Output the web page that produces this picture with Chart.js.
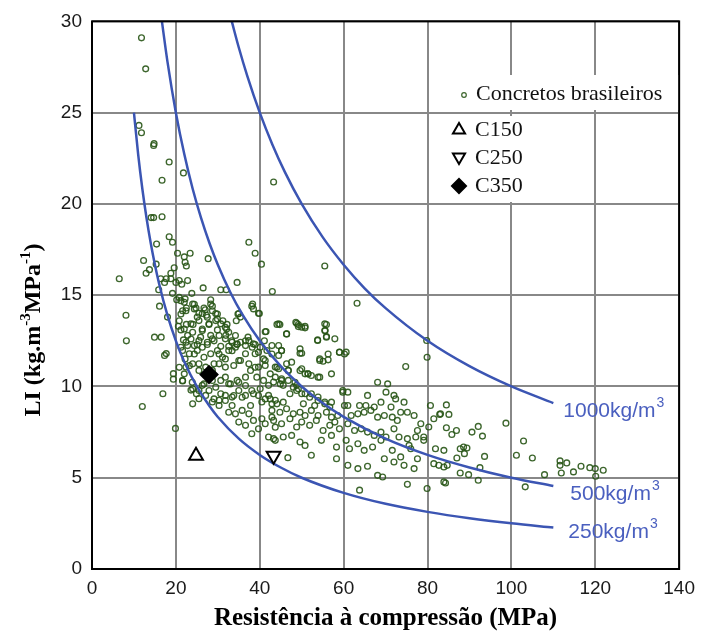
<!DOCTYPE html>
<html>
<head>
<meta charset="utf-8">
<script src="https://cdn.jsdelivr.net/npm/chart.js@4"></script>
<style>
  html, body { margin: 0; padding: 0; background: #fff; }
</style>
</head>
<body>
<canvas id="grafico" width="703" height="634"></canvas>
<script>
// eixos
const xTicks = [0, 20, 40, 60, 80, 100, 120, 140];
const yTicks = [0, 5, 10, 15, 20, 25, 30];

// concretos brasileiros [fc (MPa), LI]
const concretosBrasileiros = [
  [11.8,29.1],[12.8,27.4],[11.2,24.3],[11.8,23.9],[14.7,23.2],[14.8,23.3],[18.4,22.3],[21.8,21.7],[16.7,21.3],[43.3,21.2],
  [14.1,19.25],[14.7,19.25],[16.7,19.3],[18.4,18.2],[19.2,17.9],[15.4,17.8],[37.4,17.9],[38.9,17.3],[40.4,16.7],[20.4,17.3],
  [23.4,17.3],[22.0,17.1],[22.2,16.8],[22.5,16.6],[12.3,16.9],[15.3,16.7],[13.7,16.4],[12.9,16.2],[19.6,16.5],[18.8,16.2],
  [6.5,15.9],[27.7,17.0],[16.4,15.9],[17.7,15.9],[18.8,15.9],[20.8,15.8],[22.8,15.8],[20.0,15.7],[21.4,15.6],[17.3,15.7],
  [15.9,15.3],[23.8,15.1],[26.5,15.4],[30.7,15.3],[32.0,15.3],[34.6,15.7],[43.0,15.2],[19.2,15.1],[16.1,14.4],[8.1,13.9],
  [18.0,13.8],[20.2,14.75],[21.2,14.7],[22.2,14.8],[24.4,14.5],[24.8,14.3],[22.5,14.3],[21.6,14.15],[28.3,14.75],[28.7,14.4],
  [27.0,14.2],[26.3,14.0],[27.3,13.9],[25.1,13.8],[29.5,14.0],[29.9,13.7],[31.2,13.6],[32.2,13.4],[32.1,13.15],[35.0,14.0],
  [35.4,13.8],[34.4,13.6],[38.1,14.4],[38.5,14.25],[39.9,14.0],[41.3,13.0],[44.1,13.4],[20.8,13.6],[20.6,13.3],[22.5,13.4],
  [21.2,13.1],[22.8,12.8],[21.8,12.55],[14.9,12.7],[16.5,12.7],[8.2,12.5],[24.1,13.4],[26.3,13.15],[25.9,12.7],[27.9,13.4],
  [29.9,13.1],[28.3,12.8],[31.9,12.8],[33.3,12.5],[34.6,12.3],[32.6,12.2],[36.6,12.5],[37.2,12.7],[38.9,12.3],[41.1,12.5],
  [23.6,12.6],[25.1,12.3],[27.5,12.3],[29.1,12.5],[30.7,12.2],
  [17.7,11.8],[17.3,11.7],[19.4,10.7],[19.4,10.4],[21.6,10.3],[16.9,9.6],[12.0,8.9],[19.9,7.7],[22.2,11.5],[23.6,9.8],
  [24.9,9.6],[20.8,11.05],[22.8,12.24],[21.2,12.15],[23.2,11.14],[24.4,11.78],[25.5,11.24],[26.3,12.15],[29.1,11.24],[30.3,11.78],
  [31.8,11.51],[33.4,11.96],[34.6,12.33],[36.6,12.24],[38.5,12.33],[39.7,11.87],[41.3,11.42],[42.9,11.78],[35.0,11.42],[37.4,11.24],
  [38.9,11.05],[31.8,10.51],[33.0,10.14],[35.0,10.23],[36.6,10.05],[38.1,9.78],[39.7,9.5],[41.3,9.32],[42.9,9.05],[29.5,9.96],
  [30.7,9.6],[31.8,9.23],[33.4,8.96],[32.6,8.59],[34.2,8.5],[35.8,8.69],[37.4,8.5],[38.5,8.14],[40.5,8.23],[41.3,7.96],
  [39.7,7.68],[38.1,7.41],[42.9,8.32],[43.7,7.77],[43.3,7.14],[42.1,7.23],[35.0,8.05],[36.6,7.87],[30.3,8.96],[29.1,9.32],
  [27.9,9.78],[26.7,10.14],[25.5,9.78],[23.9,10.23],[22.0,10.69],[35.8,9.41],[37.8,8.96],[33.8,9.5],
  [20.8,14.88],[22.0,14.61],[24.0,14.52],[24.4,14.25],[22.4,14.15],[21.2,13.97],[25.5,14.01],[26.7,14.3],[28.3,14.52],[28.7,14.15],
  [29.9,13.97],[27.5,13.79],[25.5,13.61],[23.6,13.43],[22.0,13.15],[24.0,12.97],[26.3,13.06],[27.9,13.43],[29.5,13.61],[30.7,13.43],
  [31.8,13.24],[32.6,12.97],[34.2,12.79],[33.4,12.42],[31.8,12.61],[30.3,12.79],[28.7,12.61],[27.5,12.42],[25.5,12.51],[24.4,12.24],
  [22.4,12.42],[21.6,11.97],[23.2,11.79],[25.1,11.97],[26.7,11.6],[28.3,11.79],[29.9,11.97],[31.1,11.6],[32.6,11.97],[34.2,12.15],
  [35.4,12.42],[37.4,12.51],[38.2,12.15],[38.9,11.79],[36.6,11.79],[35.4,11.42],[33.8,11.15],[31.8,11.06],[30.3,11.24],[28.7,10.88],
  [27.1,11.06],[25.5,10.88],[24.0,11.24],[22.4,11.06],[21.6,10.33],[24.0,9.87],[26.3,10.06],[28.7,10.33],[30.7,10.33],[32.6,10.15],
  [34.6,10.33],[36.6,10.51],[37.8,10.88],[39.7,11.06],[41.3,11.15],[39.3,10.51],[40.9,10.33],[42.1,10.06],[40.1,9.87],[38.5,9.6],
  [36.6,9.51],[35.0,9.78],[33.4,9.42],[31.8,9.51],[30.3,9.24],[28.7,9.15],[27.1,9.51],[25.5,9.33],[24.0,9.05],
  [34.8,13.97],[38.3,14.52],[39.7,14.01],[41.5,13.01],[44.5,13.43],[46.4,12.88],[48.6,13.52],[49.2,13.39],[50.8,13.21],[53.8,12.55],
  [55.5,13.43],[55.5,13.06],[55.9,12.7],[57.9,12.61],[59.0,11.88],[60.6,11.88],[54.3,11.42],[56.3,11.46],[50.0,11.82],[47.6,11.33],
  [44.5,11.7],[45.2,11.97],[42.9,12.24],[41.7,11.97],[40.1,12.15],[40.9,11.51],[43.7,11.06],[44.5,10.97],[46.8,10.88],[50.0,10.97],
  [51.5,10.69],[52.3,10.6],[54.3,10.51],[57.1,10.69],[59.8,9.78],[61.0,9.69],[48.8,10.06],[49.2,9.87],[50.8,9.6],[52.3,9.6],
  [53.9,9.42],[55.5,9.15],[46.8,10.33],[45.2,10.33],[45.6,10.06],[43.3,10.24],[42.1,9.51],[43.7,9.24],[40.5,9.15],[50.4,9.05],
  [53.1,8.96],[56.7,8.87],
  [44.5,12.24],[45.2,11.96],[49.6,11.82],[54.3,11.51],[56.3,11.78],[55.1,11.38],[59.0,11.87],[60.2,11.78],[74.8,11.09],[79.9,11.6],
  [42.5,10.69],[44.1,11.05],[46.4,11.24],[46.8,10.87],[49.6,10.87],[50.8,10.69],[51.5,10.69],[53.9,10.51],[43.7,10.51],[45.2,10.42],
  [44.9,10.14],[48.4,10.23],[48.0,9.96],[68.1,10.23],[70.5,10.14],[59.8,9.69],[70.1,9.69],[65.7,9.51],[72.0,9.51],[72.4,9.32],
  [74.4,9.14],[68.9,9.14],[63.8,8.96],[65.3,8.96],[67.3,8.87],[71.3,8.87],[73.6,8.59],[75.2,8.59],[60.2,8.96],[61.0,8.96],
  [57.1,9.14],[55.5,9.05],[53.9,9.23],[51.9,9.41],[50.0,9.6],[48.8,9.78],[47.2,9.6],[45.6,9.14],[44.1,9.05],[42.5,9.32],
  [42.9,8.69],[44.8,8.59],[46.4,8.78],[48.0,8.5],[49.6,8.59],[50.8,8.41],[52.3,8.69],[53.9,8.41],[55.9,8.59],[57.1,8.32],
  [58.6,8.41],[61.8,8.41],[63.4,8.5],[64.9,8.59],[66.5,8.69],[68.1,8.32],[69.7,8.41],[71.6,8.32],[72.8,8.14],[76.8,8.41],
  [80.7,8.96],[83.1,8.5],[81.5,8.23],[80.3,7.78],[79.1,7.23],[78.4,7.96],[77.6,7.59],[43.3,8.14],[45.2,7.96],[47.2,8.23],
  [48.8,7.78],[50.0,8.05],[51.9,7.87],[53.5,8.14],[55.1,7.59],[56.7,7.87],[57.9,8.05],[59.0,7.68],[61.0,7.96],[62.6,7.59],
  [64.2,7.68],[65.7,7.5],[67.3,7.32],[68.9,7.5],[70.1,7.23],[72.0,7.68],[73.2,7.23],[75.2,7.14],[77.2,7.23],[79.1,7.05],
  [81.9,6.59],[83.9,6.5],[43.7,7.05],[45.6,7.23],[47.6,7.32],[49.6,6.96],[50.8,6.77],[52.3,6.23],[54.7,7.05],[57.1,7.32],
  [58.3,6.68],[60.6,7.05],[61.4,6.59],[63.4,6.86],[64.9,6.5],[66.9,6.68],[68.9,7.05],[69.7,6.04],[71.6,6.5],[72.0,5.86],
  [73.6,6.14],[74.4,5.68],[75.6,6.77],[77.6,6.04],[81.5,5.77],[82.7,5.68],[83.9,5.59],[76.8,5.5],[76.0,6.59],[46.7,6.1],
  [58.3,6.04],[61.0,5.68],[63.4,5.5],[65.7,5.63],[68.1,5.13],[69.3,5.04],[75.2,4.64],[79.9,4.41],[83.9,4.77],[63.8,4.32],
  [84.5,8.99],[82.9,8.47],[85.1,8.47],[84.5,7.74],[85.8,7.37],[86.9,7.59],[90.6,7.5],[92.1,7.81],[93.1,7.28],[98.7,7.99],
  [102.9,7.01],[101.2,6.23],[105.0,6.08],[87.8,6.59],[88.6,6.68],[89.4,6.63],[88.8,6.32],[87.0,6.08],[93.6,6.17],[92.5,5.55],
  [84.7,5.68],[87.8,5.26],[89.8,5.17],[92.1,4.86],[84.3,4.71],[103.3,4.5],[107.9,5.17],[111.6,5.92],[111.6,5.68],[113.2,5.81],
  [111.9,5.26],[114.8,5.32],[116.6,5.63],[118.7,5.55],[120.0,5.5],[120.1,5.08],[121.9,5.41],
  [55.5,16.6],[63.2,14.56],[79.8,12.52],[44.8,13.39],[46.4,12.88],[48.8,13.46],[49.2,13.28],[50.0,13.25],[50.8,13.3],[55.9,13.39],
  [55.6,13.06],[55.9,12.74],[53.8,12.52],[49.6,12.06]
];

// curvas de consumo de ligante (kg/m3)
const consumos = [250, 500, 1000];
const fcCurva250 = [10, 11, 12, 13, 14, 15, 16, 18, 20, 22, 25, 28, 30, 35, 40, 45, 50, 60, 70, 80, 90, 100, 110];
const liCurva250 = [25, 22.73, 20.83, 19.23, 17.86, 16.67, 15.63, 13.89, 12.5, 11.36, 10, 8.93, 8.33, 7.14, 6.25, 5.56, 5, 4.17, 3.57, 3.13, 2.78, 2.5, 2.27];
const fcCurva500 = [16.67, 18, 20, 22, 24, 26, 28, 30, 33, 36, 40, 45, 50, 55, 60, 70, 80, 90, 100, 110];
const liCurva500 = [30, 27.78, 25, 22.73, 20.83, 19.23, 17.86, 16.67, 15.15, 13.89, 12.5, 11.11, 10, 9.09, 8.33, 7.14, 6.25, 5.56, 5, 4.55];
const fcCurva1000 = [33.33, 35, 37, 40, 43, 46, 50, 55, 60, 65, 70, 80, 90, 100, 110];
const liCurva1000 = [30, 28.57, 27.03, 25, 23.26, 21.74, 20, 18.18, 16.67, 15.38, 14.29, 12.5, 11.11, 10, 9.09];

// concretos de referência
const nomesRef = ['C150', 'C250', 'C350'];
const fcRef = [24.8, 43.3, 27.9];
const liRef = [6.2, 6.2, 10.65];

const azul = '#3b55b3';
const verde = 'rgba(40,85,22,0.9)';
const serif = '"Liberation Serif", "Times New Roman", serif';
const sans = '"Liberation Sans", Arial, sans-serif';

function pares(xs, ys) {
  return xs.map(function (v, i) { return { x: v, y: ys[i] }; });
}

const curvas = [
  pares(fcCurva250, liCurva250),
  pares(fcCurva500, liCurva500),
  pares(fcCurva1000, liCurva1000)
];

const datasets = [{
  label: 'Concretos brasileiros',
  data: concretosBrasileiros.map(function (p) { return { x: p[0], y: p[1] }; }),
  pointStyle: 'circle',
  pointRadius: 2.9,
  pointBorderWidth: 1.35,
  pointBorderColor: verde,
  pointBackgroundColor: 'rgba(0,0,0,0)',
  showLine: false,
  order: 3
}];

curvas.forEach(function (c, i) {
  datasets.push({
    label: consumos[i] + 'kg/m3',
    data: c,
    showLine: true,
    borderColor: azul,
    borderWidth: 2.5,
    pointRadius: 0,
    cubicInterpolationMode: 'monotone',
    fill: false,
    order: 2
  });
});

// C150 triangulo, C250 triangulo invertido, C350 losango
const estilosRef = [
  { pointStyle: 'triangle', rotation: 0, bg: '#fff', r: 8 },
  { pointStyle: 'triangle', rotation: 180, bg: '#fff', r: 8 },
  { pointStyle: 'rectRot', rotation: 0, bg: '#000', r: 8.5 }
];
nomesRef.forEach(function (n, i) {
  datasets.push({
    label: n,
    data: [{ x: fcRef[i], y: liRef[i] }],
    showLine: false,
    pointStyle: estilosRef[i].pointStyle,
    rotation: estilosRef[i].rotation,
    pointRadius: estilosRef[i].r,
    pointBorderWidth: 2,
    pointBorderColor: '#000',
    pointBackgroundColor: estilosRef[i].bg,
    order: 1
  });
});

// legenda, rotulos das curvas, titulo do eixo y e moldura
const extras = {
  id: 'extras',
  afterDatasetsDraw(chart) {
    const ctx = chart.ctx;
    const a = chart.chartArea;
    const sx = chart.scales.x, sy = chart.scales.y;
    ctx.save();

    // caixas brancas da legenda
    ctx.fillStyle = '#fff';
    ctx.fillRect(455, 75, 226, 35);
    ctx.fillRect(445, 116, 85, 86);

    ctx.textBaseline = 'middle';
    ctx.textAlign = 'left';
    ctx.font = '22px ' + serif;
    ctx.fillStyle = '#111';

    ctx.beginPath();
    ctx.arc(464, 95, 2.3, 0, Math.PI * 2);
    ctx.strokeStyle = verde;
    ctx.lineWidth = 1.2;
    ctx.stroke();
    ctx.fillText(chart.data.datasets[0].label, 476, 94);

    const yLeg = [130, 158, 186];
    nomesRef.forEach(function (n, i) {
      const e = estilosRef[i];
      ctx.fillStyle = e.bg;
      ctx.strokeStyle = '#000';
      ctx.lineWidth = 2;
      Chart.helpers.drawPoint(ctx, {
        pointStyle: e.pointStyle, rotation: e.rotation, radius: 7, borderWidth: 2
      }, 459, yLeg[i] - (e.rotation ? 1 : 0));
      ctx.fillStyle = '#111';
      ctx.fillText(n, 475, yLeg[i]);
    });

    // rotulos das curvas
    const desloc = [[15, 5], [17, 8], [10, 8]];
    ctx.fillStyle = '#4a5fbf';
    curvas.forEach(function (c, i) {
      const ult = c[c.length - 1];
      const px = sx.getPixelForValue(ult.x) + desloc[i][0];
      const py = sy.getPixelForValue(ult.y) + desloc[i][1];
      const txt = consumos[i] + 'kg/m';
      ctx.font = '21px ' + sans;
      ctx.fillText(txt, px, py);
      const w = ctx.measureText(txt).width;
      ctx.font = '14px ' + sans;
      ctx.fillText('3', px + w + 1, py - 8);
    });

    // titulo do eixo y com sobrescritos
    const partes = [['LI (kg.m', 0], ['-3', 1], ['MPa', 0], ['-1', 1], [')', 0]];
    ctx.save();
    ctx.translate(34, 330);
    ctx.rotate(-Math.PI / 2);
    ctx.fillStyle = '#000';
    let total = 0;
    partes.forEach(function (p) {
      ctx.font = 'bold ' + (p[1] ? 15 : 24) + 'px ' + serif;
      total += ctx.measureText(p[0]).width;
    });
    let cx = -total / 2;
    partes.forEach(function (p) {
      ctx.font = 'bold ' + (p[1] ? 15 : 24) + 'px ' + serif;
      ctx.fillText(p[0], cx, p[1] ? -8 : 0);
      cx += ctx.measureText(p[0]).width;
    });
    ctx.restore();

    // moldura
    ctx.strokeStyle = '#000';
    ctx.lineWidth = 2;
    ctx.strokeRect(a.left, a.top, a.right - a.left, a.bottom - a.top);
    ctx.restore();
  }
};

new Chart(document.getElementById('grafico'), {
  type: 'scatter',
  data: { datasets: datasets },
  options: {
    responsive: false,
    animation: false,
    events: [],
    layout: { padding: { top: 20, right: 19, bottom: 0, left: 0 } },
    plugins: {
      legend: { display: false },
      tooltip: { enabled: false }
    },
    scales: {
      x: {
        type: 'linear',
        min: xTicks[0],
        max: xTicks[xTicks.length - 1],
        afterBuildTicks: function (s) { s.ticks = xTicks.map(function (v) { return { value: v }; }); },
        afterFit: function (s) { s.height = 65; },
        ticks: { font: { family: sans, size: 19 }, color: '#1a1a1a', padding: 8, maxRotation: 0 },
        grid: { color: '#888', lineWidth: 2, drawTicks: false },
        border: { display: false },
        title: {
          display: true,
          text: 'Resistência à compressão (MPa)',
          font: { family: serif, size: 25, weight: 'bold' },
          color: '#000',
          padding: { top: 0, bottom: 0 }
        }
      },
      y: {
        type: 'linear',
        min: yTicks[0],
        max: yTicks[yTicks.length - 1],
        afterBuildTicks: function (s) { s.ticks = yTicks.map(function (v) { return { value: v }; }); },
        afterFit: function (s) { s.width = 92; },
        ticks: { font: { family: sans, size: 19 }, color: '#1a1a1a', padding: 10 },
        grid: { color: '#888', lineWidth: 2, drawTicks: false },
        border: { display: false }
      }
    }
  },
  plugins: [extras]
});
</script>
</body>
</html>
